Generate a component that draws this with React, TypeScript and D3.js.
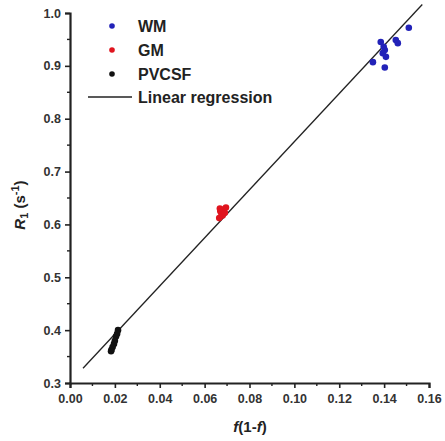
import React, { useEffect, useRef } from 'react';
import * as d3 from 'd3';

// values
const wmX = [0.1385, 0.1403, 0.1394, 0.1452, 0.1461, 0.151, 0.1403, 0.135, 0.1408, 0.1398];
const wmY = [0.945, 0.930, 0.924, 0.949, 0.943, 0.972, 0.897, 0.907, 0.917, 0.936];
const gmX = [0.0665, 0.0675, 0.0685, 0.0695, 0.0670, 0.0680, 0.0690, 0.0668];
const gmY = [0.612, 0.620, 0.628, 0.632, 0.625, 0.617, 0.622, 0.630];
const csfX = [0.0214, 0.0205, 0.0196, 0.0185, 0.0210, 0.0190, 0.0200, 0.0183];
const csfY = [0.400, 0.388, 0.374, 0.363, 0.393, 0.368, 0.380, 0.360];
const fitX = [0.0058, 0.157];
const fitY = [0.328, 1.016];
const xTicks = [0, 0.02, 0.04, 0.06, 0.08, 0.1, 0.12, 0.14, 0.16];
const yTicks = [0.3, 0.4, 0.5, 0.6, 0.7, 0.8, 0.9, 1.0];
const legendNames = ['WM', 'GM', 'PVCSF'];
const colors = ['#2222b8', '#e0141e', '#111111'];

const App = () => {
  const ref = useRef<SVGSVGElement>(null);

  useEffect(() => {
    if (!ref.current) return;
    const svg = d3.select(ref.current);
    svg.selectAll('*').remove();

    const x = d3.scaleLinear().domain([0, 0.16]).range([70, 429]);
    const y = d3.scaleLinear().domain([0.3, 1.0]).range([383, 13]);
    const font = 'Arial, "Liberation Sans", sans-serif';
    const ink = '#222';

    // axes
    const xAxis = svg.append('g')
      .attr('transform', 'translate(0,383)')
      .call(d3.axisBottom(x).tickValues(xTicks).tickSize(5).tickPadding(6).tickFormat(d3.format('.2f')));
    const yAxis = svg.append('g')
      .attr('transform', 'translate(70,0)')
      .call(d3.axisLeft(y).tickValues(yTicks).tickSize(5).tickPadding(4).tickFormat(d3.format('.1f')));

    [xAxis, yAxis].forEach(g => {
      g.select('.domain').attr('stroke', ink).attr('stroke-width', 2.2);
      g.selectAll('.tick line').attr('stroke', ink).attr('stroke-width', 1.6);
      g.selectAll('.tick text')
        .attr('fill', '#333')
        .attr('font-family', font)
        .attr('font-size', 12.5)
        .attr('font-weight', 'bold');
    });

    // minor ticks
    const xMinor = xTicks.slice(0, -1).map((d, i) => (d + xTicks[i + 1]) / 2);
    const yMinor = yTicks.slice(0, -1).map((d, i) => (d + yTicks[i + 1]) / 2);
    svg.append('g').selectAll('line').data(xMinor).join('line')
      .attr('x1', d => x(d)).attr('x2', d => x(d))
      .attr('y1', 383).attr('y2', 386)
      .attr('stroke', ink).attr('stroke-width', 1.4);
    svg.append('g').selectAll('line').data(yMinor).join('line')
      .attr('x1', 70).attr('x2', 67)
      .attr('y1', d => y(d)).attr('y2', d => y(d))
      .attr('stroke', ink).attr('stroke-width', 1.4);

    // regression line
    const line = d3.line<number>().x(d => x(d)).y((d, i) => y(fitY[i]));
    svg.append('path')
      .datum(fitX)
      .attr('fill', 'none')
      .attr('stroke', '#222')
      .attr('stroke-width', 1.3)
      .attr('d', line);

    // points
    const groups = [
      { xs: gmX, ys: gmY, c: colors[1] },
      { xs: csfX, ys: csfY, c: colors[2] },
      { xs: wmX, ys: wmY, c: colors[0] },
    ];
    groups.forEach(gr => {
      svg.append('g').selectAll('circle').data(gr.xs).join('circle')
        .attr('cx', d => x(d))
        .attr('cy', (d, i) => y(gr.ys[i]))
        .attr('r', 3.3)
        .attr('fill', gr.c);
    });

    // legend
    const leg = svg.append('g').attr('font-family', font).attr('font-weight', 'bold').attr('font-size', 16);
    legendNames.forEach((name, i) => {
      const yy = 26 + i * 24;
      leg.append('circle').attr('cx', 112).attr('cy', yy).attr('r', 2.8).attr('fill', colors[i]);
      leg.append('text').attr('x', 138).attr('y', yy + 6).attr('fill', '#222').text(name);
    });
    leg.append('line').attr('x1', 88).attr('x2', 132).attr('y1', 97).attr('y2', 97)
      .attr('stroke', '#222').attr('stroke-width', 1.3);
    leg.append('text').attr('x', 138).attr('y', 103).attr('fill', '#222').text('Linear regression');

    // axis labels
    const xl = svg.append('text')
      .attr('x', 250).attr('y', 432)
      .attr('text-anchor', 'middle')
      .attr('font-family', font).attr('font-size', 15).attr('font-weight', 'bold').attr('fill', '#222');
    xl.append('tspan').attr('font-style', 'italic').text('f');
    xl.append('tspan').text('(1-');
    xl.append('tspan').attr('font-style', 'italic').text('f');
    xl.append('tspan').text(')');

    const yl = svg.append('text')
      .attr('transform', 'translate(25,205) rotate(-90)')
      .attr('text-anchor', 'middle')
      .attr('font-family', font).attr('font-size', 15).attr('font-weight', 'bold').attr('fill', '#222');
    yl.append('tspan').attr('font-style', 'italic').text('R');
    yl.append('tspan').attr('font-size', 11).attr('dy', 3).text('1');
    yl.append('tspan').attr('dy', -3).text(' (s');
    yl.append('tspan').attr('font-size', 11).attr('dy', -6).text('-1');
    yl.append('tspan').attr('dy', 6).text(')');
  }, []);

  return (
    <svg ref={ref} width={445} height={441}
      style={{ position: 'absolute', left: 0, top: 0, background: '#fff' }} />
  );
};

export default App;
